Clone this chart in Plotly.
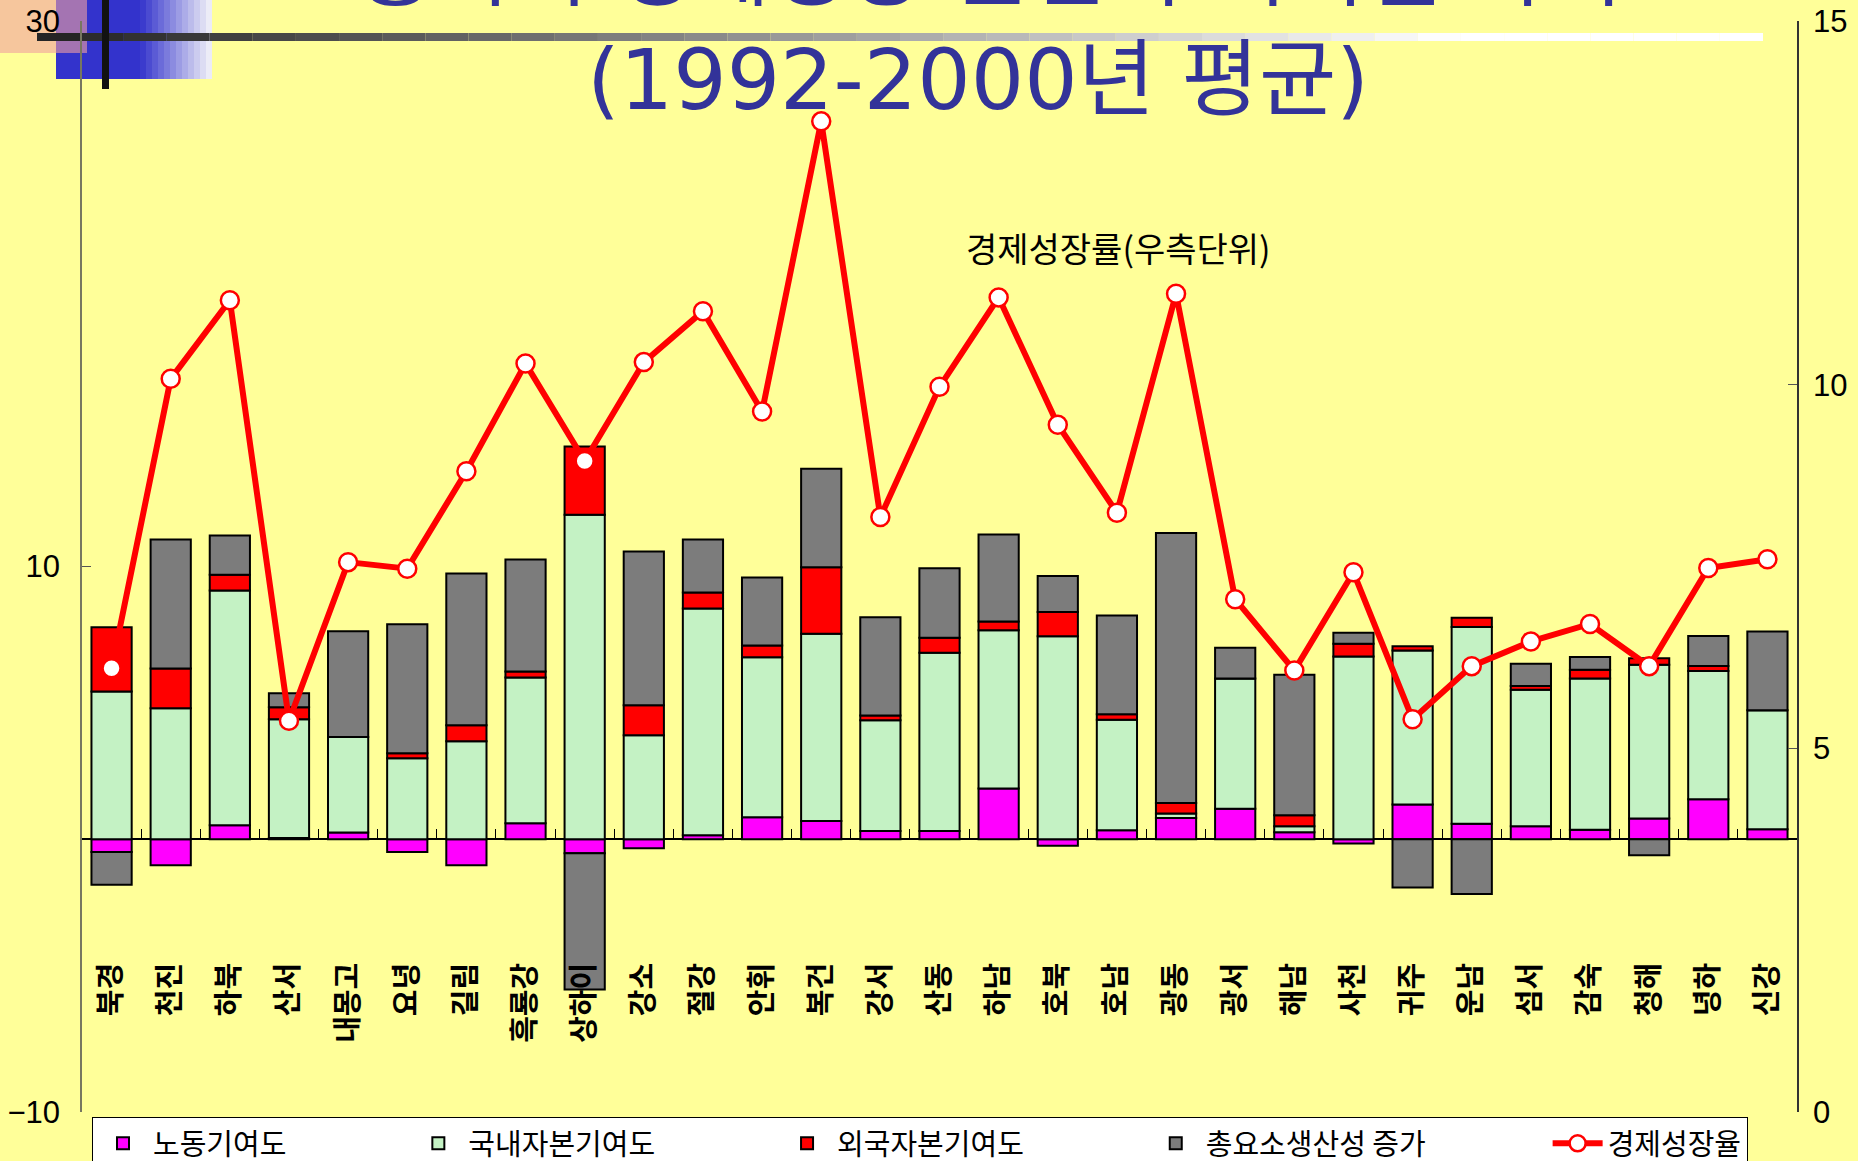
import plotly.graph_objects as go

# 성별 경제성장 원천 (1992-2000년 평균)
provinces = ["북경", "천진", "하북", "산서", "내몽고", "요녕", "길림", "흑룡강", "상하이", "강소",
             "절강", "안휘", "복건", "강서", "산동", "하남", "호북", "호남", "광동", "광서",
             "해남", "사천", "귀주", "운남", "섬서", "감숙", "청해", "녕하", "신강"]

labor = [-0.47, -0.95, 0.51, 0.05, 0.25, -0.47, -0.95, 0.59, -0.51, -0.33,
         0.15, 0.81, 0.67, 0.30, 0.30, 1.86, -0.24, 0.33, 0.78, 1.12,
         0.26, -0.16, 1.27, 0.57, 0.48, 0.35, 0.76, 1.47, 0.37]
domestic = [5.42, 4.80, 8.61, 4.35, 3.50, 2.97, 3.59, 5.34, 11.90, 3.81,
            8.31, 5.86, 6.86, 4.06, 6.54, 5.80, 7.44, 4.05, 0.16, 4.77,
            0.22, 6.70, 5.65, 7.21, 5.00, 5.54, 5.64, 4.70, 4.36]
foreign = [2.35, 1.46, 0.58, 0.44, 0.00, 0.18, 0.59, 0.22, 2.50, 1.10,
           0.59, 0.43, 2.44, 0.18, 0.55, 0.32, 0.89, 0.20, 0.39, 0.00,
           0.40, 0.47, 0.16, 0.34, 0.14, 0.32, 0.24, 0.18, 0.00]
tfp = [-1.20, 4.73, 1.44, 0.51, 3.88, 4.73, 5.56, 4.11, -5.00, 5.64,
       1.94, 2.50, 3.61, 3.60, 2.55, 3.19, 1.32, 3.62, 9.90, 1.13,
       5.15, 0.40, -1.77, -2.01, 0.81, 0.47, -0.59, 1.10, 2.89]
growth = [6.10, 10.08, 11.16, 5.38, 7.56, 7.47, 8.81, 10.29, 8.95, 10.31,
          11.01, 9.63, 13.62, 8.18, 9.97, 11.20, 9.45, 8.24, 11.25, 7.05,
          6.07, 7.42, 5.40, 6.13, 6.47, 6.71, 6.13, 7.48, 7.60]

series_names = ["노동기여도", "국내자본기여도", "외국자본기여도", "총요소생산성 증가"]
series_colors = ["#FF00FF", "#C4F2C4", "#FF0000", "#7C7C7C"]
line_name = "경제성장율"

title_line1 = "중국의 경제성장 원천의 지역별 차이"
title_line2 = "(1992-2000년 평균)"
note_text = "경제성장률(우측단위)"

KR = "Noto Sans CJK KR"
NUM = "Liberation Sans, Arial"
TITLE_FONT = "DejaVu Sans, Noto Sans CJK KR"
PAD = "\u00a0" * 18  # extra room between legend entries

W, H = 1858, 1161
PL, PR, PT, PB = 82, 1797, 21, 1112


def px(x):
    return (x - PL) / (PR - PL)


def py(y):
    return (PB - y) / (PB - PT)


fig = go.Figure()

for name, vals, col in zip(series_names, [labor, domestic, foreign, tfp], series_colors):
    fig.add_trace(
        go.Bar(
            x=provinces,
            y=vals,
            name=name + PAD,
            marker=dict(color=col, line=dict(color="black", width=2)),
        )
    )

fig.add_trace(
    go.Scatter(
        x=provinces,
        y=growth,
        name=line_name,
        xaxis="x2",
        yaxis="y2",
        mode="lines+markers",
        line=dict(color="#FF0000", width=6),
        marker=dict(size=18, color="white", line=dict(color="#FF0000", width=2.5)),
    )
)

# decorative slide elements (top-left corner and rule under the title)
shapes = []
shapes.append(dict(type="rect", xref="paper", yref="paper", layer="below",
                   x0=px(56), x1=px(140), y0=py(0), y1=py(79),
                   fillcolor="#3333CC", line=dict(width=0)))
n = 12
for i in range(n):
    t = (i + 0.5) / n
    r = int(51 + (245 - 51) * t)
    shapes.append(dict(type="rect", xref="paper", yref="paper", layer="below",
                       x0=px(140 + 72 * i / n), x1=px(140 + 72 * (i + 1) / n),
                       y0=py(0), y1=py(79),
                       fillcolor=f"rgb({r},{r},{int(204 + 45 * t)})", line=dict(width=0)))
shapes.append(dict(type="rect", xref="paper", yref="paper", layer="below",
                   x0=px(0), x1=px(87), y0=py(0), y1=py(53),
                   fillcolor="#F0A0A0", opacity=0.6, line=dict(width=0)))
n = 40
for i in range(n):
    t = min(1.0, (i + 0.5) / n * 1726 / 1413)
    c = int(34 + (255 - 34) * t)
    shapes.append(dict(type="rect", xref="paper", yref="paper", layer="below",
                       x0=px(37 + 1726 * i / n), x1=px(37 + 1726 * (i + 1) / n),
                       y0=py(33), y1=py(41),
                       fillcolor=f"rgb({c},{c},{c})", line=dict(width=0)))
shapes.append(dict(type="rect", xref="paper", yref="paper", layer="below",
                   x0=px(102), x1=px(109), y0=py(0), y1=py(89),
                   fillcolor="#111111", line=dict(width=0)))

cat_range = [-0.5, len(provinces) - 0.5]

fig.update_layout(
    width=W,
    height=H,
    margin=dict(l=PL, r=W - PR, t=PT, b=H - PB, autoexpand=False),
    paper_bgcolor="#FFFF99",
    plot_bgcolor="rgba(0,0,0,0)",
    barmode="relative",
    bargap=0.32,
    shapes=shapes,
    showlegend=True,
    legend=dict(
        orientation="h",
        xref="container", yref="container",
        x=92 / W, y=(H - 1117) / H,
        xanchor="left", yanchor="top",
        bgcolor="white",
        bordercolor="black",
        borderwidth=1,
        itemwidth=50,
        font=dict(family=KR, size=29, color="black"),
        traceorder="normal",
    ),
    xaxis=dict(
        type="category",
        range=cat_range,
        anchor="free",
        position=py(956),
        showline=False,
        showgrid=False,
        ticks="",
        tickangle=-90,
        tickfont=dict(family=KR, size=29, color="black", weight="bold"),
    ),
    xaxis2=dict(
        type="category",
        overlaying="x",
        anchor="free",
        position=py(839),
        range=cat_range,
        tickson="boundaries",
        ticks="inside",
        ticklen=10,
        tickcolor="black",
        showticklabels=False,
        showgrid=False,
        showline=False,
        zeroline=False,
    ),
    yaxis=dict(
        range=[-10, 30],
        tickvals=[-10, 10, 30],
        showgrid=False,
        zeroline=True,
        zerolinecolor="black",
        zerolinewidth=2,
        showline=True,
        linecolor="#777760",
        linewidth=1.5,
        ticks="inside",
        ticklen=9,
        tickcolor="#555555",
        ticklabelstandoff=14,
        tickfont=dict(family=NUM, size=31, color="black"),
    ),
    yaxis2=dict(
        overlaying="y",
        side="right",
        range=[0, 15],
        tickvals=[0, 5, 10, 15],
        showgrid=False,
        zeroline=False,
        showline=True,
        linecolor="#333333",
        linewidth=1.5,
        ticks="inside",
        ticklen=9,
        tickcolor="#555555",
        ticklabelstandoff=8,
        tickfont=dict(family=NUM, size=31, color="black"),
    ),
)

fig.add_annotation(xref="paper", yref="paper", x=px(990), y=py(-30),
                   xanchor="center", yanchor="middle",
                   text=title_line1, showarrow=False,
                   font=dict(family=TITLE_FONT, size=84, color="#333399"))
fig.add_annotation(xref="paper", yref="paper", x=px(978), y=py(80),
                   xanchor="center", yanchor="middle",
                   text=title_line2, showarrow=False,
                   font=dict(family=TITLE_FONT, size=84, color="#333399"))
fig.add_annotation(xref="paper", yref="paper", x=px(1118), y=py(247),
                   xanchor="center", yanchor="middle",
                   text=note_text, showarrow=False,
                   font=dict(family=KR, size=34, color="black"))

fig.write_html("out.html", config={"displayModeBar": False},
               post_script="document.body.style.margin='0';")
